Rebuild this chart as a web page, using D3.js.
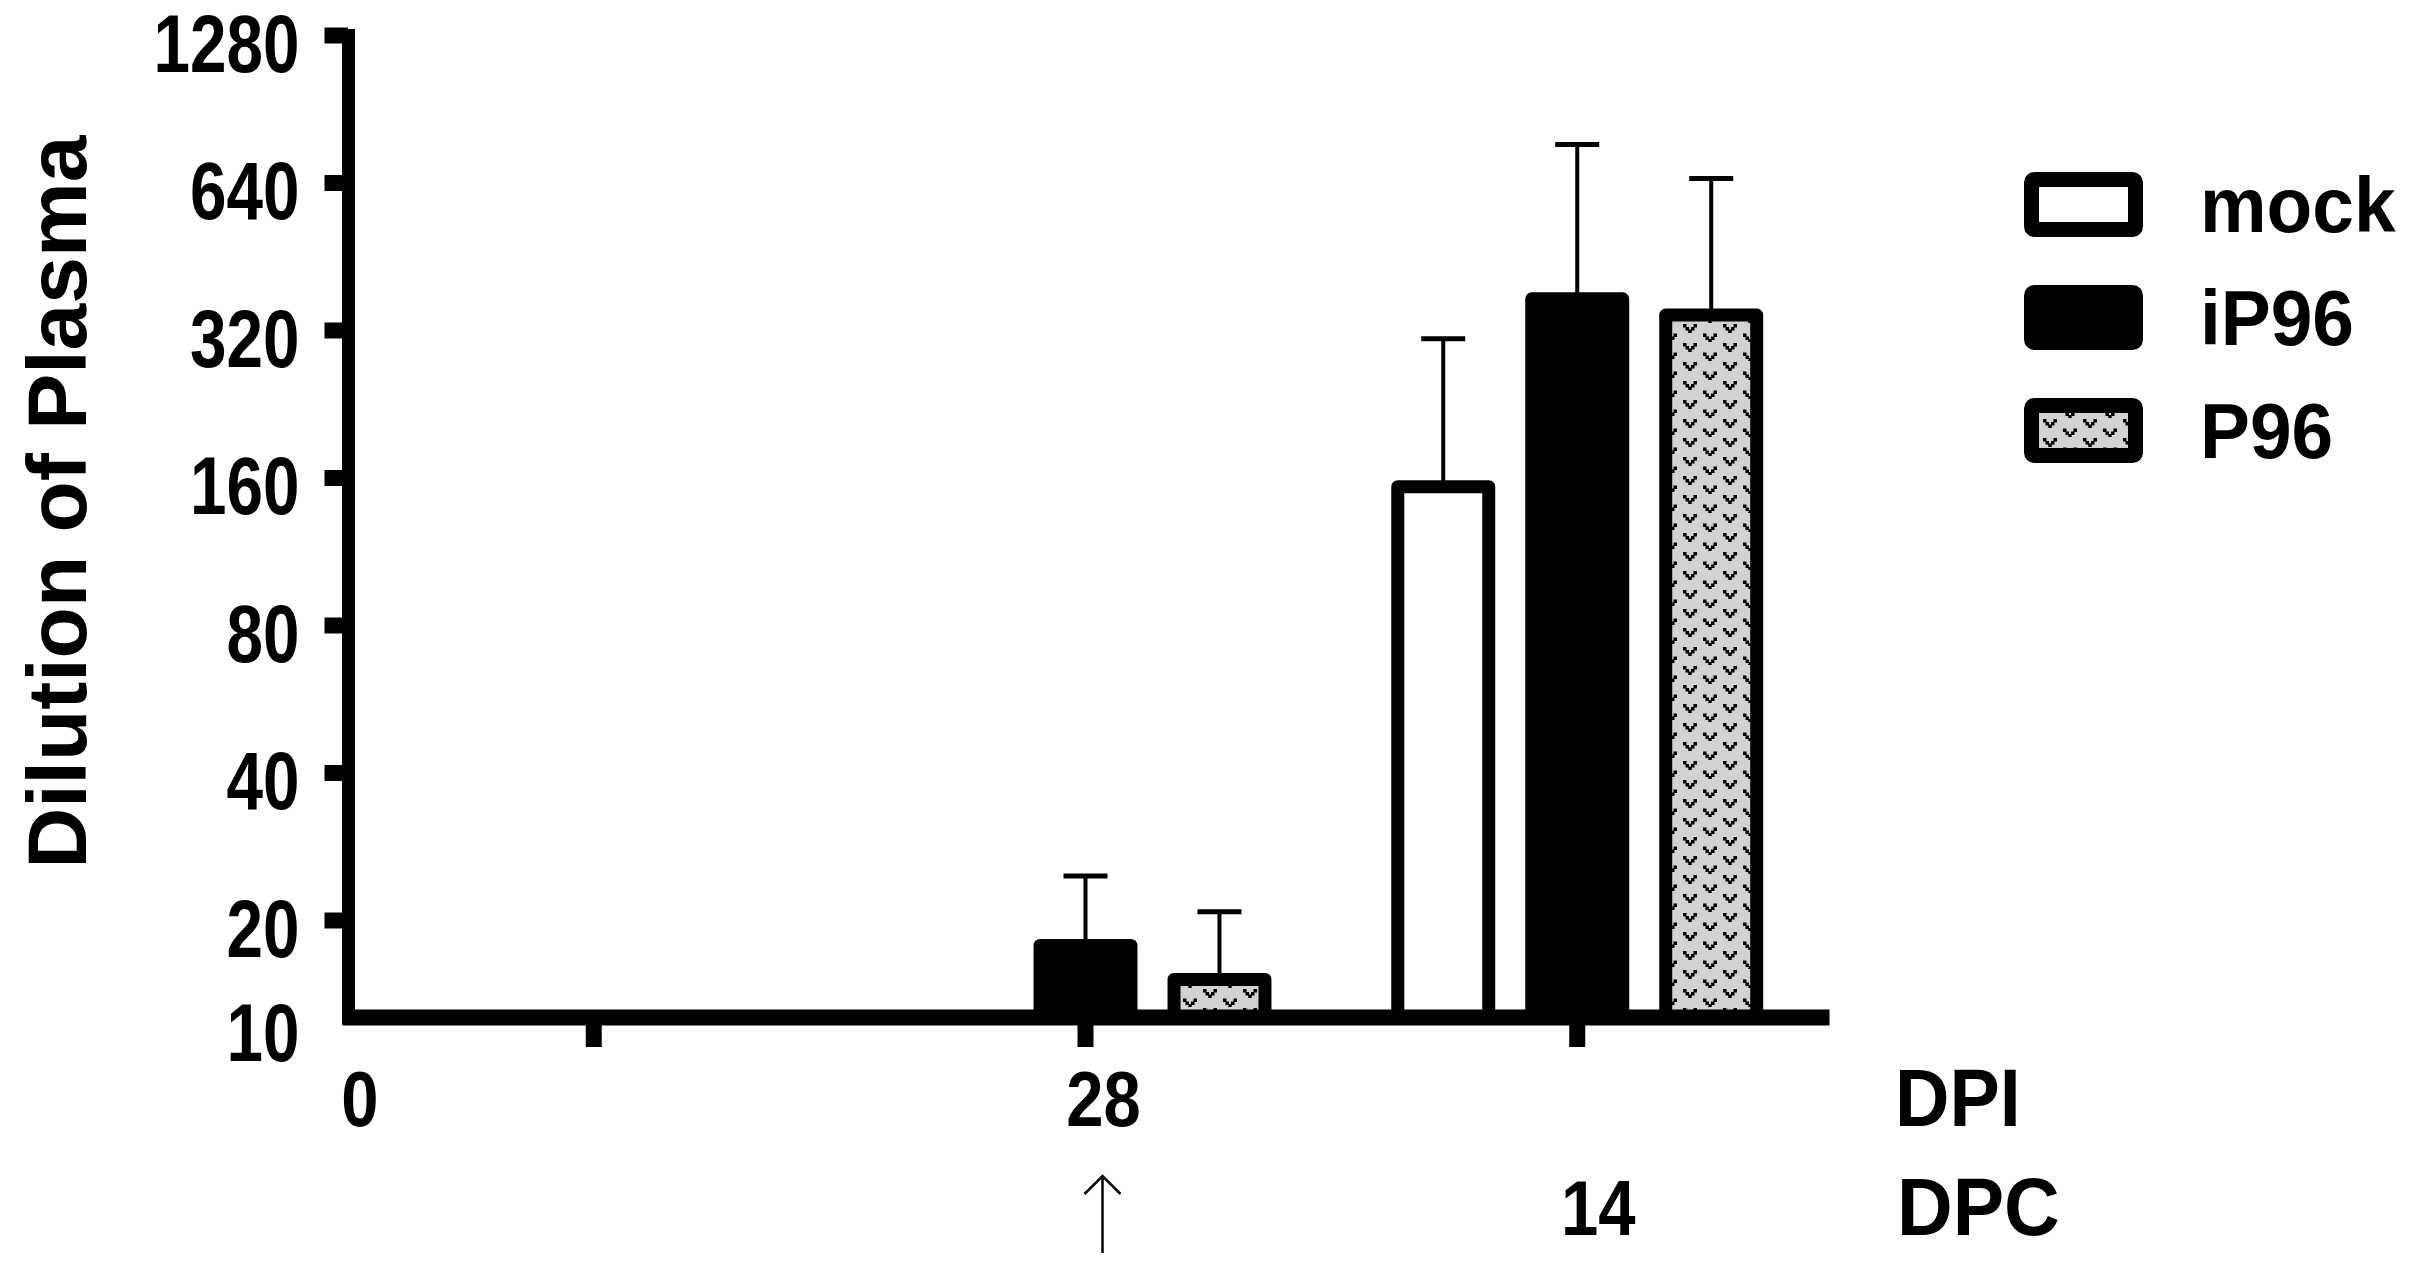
<!DOCTYPE html>
<html>
<head>
<meta charset="utf-8">
<script src="https://cdn.jsdelivr.net/npm/d3@7"></script>
<style>
  html, body { margin: 0; padding: 0; background: #fff; }
  svg { display: block; }
  text { font-family: "Liberation Sans", Arial, Helvetica, sans-serif; font-weight: bold; fill: #000; }
</style>
</head>
<body>
<script>
// ---------- data ----------
const groups = ["pre", "28DPI", "14DPC"];
const series = ["mock", "iP96", "P96"];
const mockMean = [10, 10, 158];
const mockSD   = [0, 0, 149];
const iP96Mean = [10, 18.3, 382];
const iP96SD   = [0, 6.3, 383];
const P96Mean  = [10, 15.6, 354];
const P96SD    = [0, 5.2, 298];
const yTicks = [10, 20, 40, 80, 160, 320, 640, 1280];
const dpiLabels = [{ text: "0", at: "origin" }, { text: "28", at: "28DPI" }];
const dpcLabels = [{ text: "14", at: "14DPC" }];
const yTitle = "Dilution of Plasma";

const means = { mock: mockMean, iP96: iP96Mean, P96: P96Mean };
const sds = { mock: mockSD, iP96: iP96SD, P96: P96SD };

// ---------- layout ----------
const W = 2415, H = 1281;
const axisX = 348.5, baseY = 1017.5, topY = 35;
const xLeft = 342, xRight = 1829;
const yMin = 12.65, yMax = 1280;

const svg = d3.select("body").append("svg").attr("width", W).attr("height", H);

const defs = svg.append("defs");
const pat = defs.append("pattern").attr("id", "dots").attr("patternUnits", "userSpaceOnUse")
  .attr("width", 40).attr("height", 19);
pat.append("rect").attr("width", 40).attr("height", 19).attr("fill", "#d2d2d2");
const vDots = [[-7,-4],[3.5,-4],[-4.5,-1],[1,-1],[-1.75,1.5]];
[[10,5],[30,14.5]].forEach(([cx, cy]) => {
  vDots.forEach(([dx, dy]) => {
    pat.append("rect").attr("x", cx + dx).attr("y", cy + dy).attr("width", 3.5).attr("height", 3.5).attr("fill", "#000");
  });
});
const fills = { mock: "#ffffff", iP96: "#000000", P96: "url(#dots)" };

// ---------- scales ----------
const y = d3.scaleLog().base(2).domain([yMin, yMax]).range([baseY, topY]).clamp(true);
const x0 = d3.scaleBand().domain(groups).range([xLeft, xRight]).paddingInner(0).paddingOuter(0.012);
const x1 = d3.scaleBand().domain(series).range([-x0.bandwidth() / 2, x0.bandwidth() / 2])
  .paddingInner(0.224).paddingOuter(0.447);
const center = g => x0(g) + x0.bandwidth() / 2;

// ---------- bars ----------
const sw = 13;
const barData = [];
groups.forEach((g, gi) => series.forEach(s => {
  barData.push({ g, s, v: means[s][gi], sd: sds[s][gi] });
}));
const visible = barData.filter(d => d.v > yMin);

const barG = svg.append("g");
const errG = svg.append("g");
visible.filter(d => d.sd > 0).forEach(d => {
  const cx = center(d.g) + x1(d.s) + x1.bandwidth() / 2;
  const yTop = y(d.v + d.sd);
  errG.append("line").attr("x1", cx).attr("x2", cx).attr("y1", y(d.v) + 2).attr("y2", yTop)
    .attr("stroke", "#000").attr("stroke-width", 4);
  errG.append("line").attr("x1", cx - 22).attr("x2", cx + 22).attr("y1", yTop).attr("y2", yTop)
    .attr("stroke", "#000").attr("stroke-width", 5);
});
barG.selectAll("rect").data(visible).join("rect")
  .attr("x", d => center(d.g) + x1(d.s) + sw / 2)
  .attr("width", x1.bandwidth() - sw)
  .attr("y", d => y(d.v) + sw / 2)
  .attr("height", d => y(yMin) - y(d.v) - sw / 2)
  .attr("fill", d => fills[d.s])
  .attr("stroke", "#000").attr("stroke-width", sw).attr("stroke-linejoin", "round");

// ---------- axes ----------
const yAxis = svg.append("g").attr("transform", `translate(${axisX - 0.5},0)`)
  .call(d3.axisLeft(y).tickValues(yTicks).tickSize(23.5).tickSizeOuter(0).tickPadding(25)
    .tickFormat(d3.format("d")));
yAxis.select(".domain").attr("stroke-width", 13).attr("stroke-linecap", "square");
yAxis.selectAll(".tick line").attr("stroke-width", 16);
yAxis.selectAll(".tick").filter(d => d === 10).select("line").remove();
yAxis.selectAll(".tick text")
  .attr("x", null)
  .attr("dy", d => d === 10 ? "0.52em" : "0.44em")
  .attr("transform", "translate(-48.5,0) scale(0.8,1)")
  .style("font-size", "82px").style("font-family", "'Liberation Sans', Arial, sans-serif")
  .style("font-weight", "bold");
yAxis.attr("font-size", null).attr("font-family", null);

const xAxis = svg.append("g").attr("transform", `translate(0,${baseY - 0.5})`)
  .call(d3.axisBottom(x0).tickSize(30).tickSizeOuter(0).tickFormat(""));
xAxis.select(".domain").attr("stroke-width", 16);
xAxis.selectAll(".tick line").attr("stroke-width", 16);

// ---------- x labels ----------
const labelX = at => (at === "origin" ? xLeft : center(at)) + 18;
svg.append("g").selectAll("text").data(dpiLabels).join("text")
  .attr("text-anchor", "middle").style("font-size", "78px")
  .attr("transform", d => `translate(${labelX(d.at)},1126) scale(0.86,1)`)
  .text(d => d.text);
svg.append("g").selectAll("text").data(dpcLabels).join("text")
  .attr("text-anchor", "middle").style("font-size", "78px")
  .attr("transform", d => `translate(${labelX(d.at) + 3},1235) scale(0.86,1)`)
  .text(d => d.text);

svg.append("text").attr("transform", "translate(1895,1126) scale(0.92,1)")
  .style("font-size", "82px").text("DPI");
svg.append("text").attr("transform", "translate(1897,1235) scale(0.94,1)")
  .style("font-size", "82px").text("DPC");

// arrow under 28
const ax = center("28DPI") + 17;
svg.append("path")
  .attr("d", `M${ax},1253V1176M${ax - 18},1194L${ax},1176L${ax + 18},1194`)
  .attr("fill", "none").attr("stroke", "#000").attr("stroke-width", 2.5);

// ---------- y title ----------
svg.append("text").attr("transform", "translate(86,502) rotate(-90)")
  .attr("text-anchor", "middle").style("font-size", "84px").text(yTitle);

// ---------- legend ----------
const legY = d3.scalePoint().domain(series).range([204.5, 430.5]);
const lsw = 15;
const leg = svg.append("g");
series.forEach(s => {
  const cy = legY(s);
  leg.append("rect")
    .attr("x", 2024 + lsw / 2).attr("y", cy - 32.5 + lsw / 2)
    .attr("width", 119 - lsw).attr("height", 65 - lsw).attr("rx", 3)
    .attr("fill", fills[s]).attr("stroke", "#000").attr("stroke-width", lsw)
    .attr("stroke-linejoin", "round");
  leg.append("text").attr("transform", `translate(2200,${cy + 27}) scale(0.96,1)`)
    .style("font-size", "78px").text(s);
});
</script>
</body>
</html>
